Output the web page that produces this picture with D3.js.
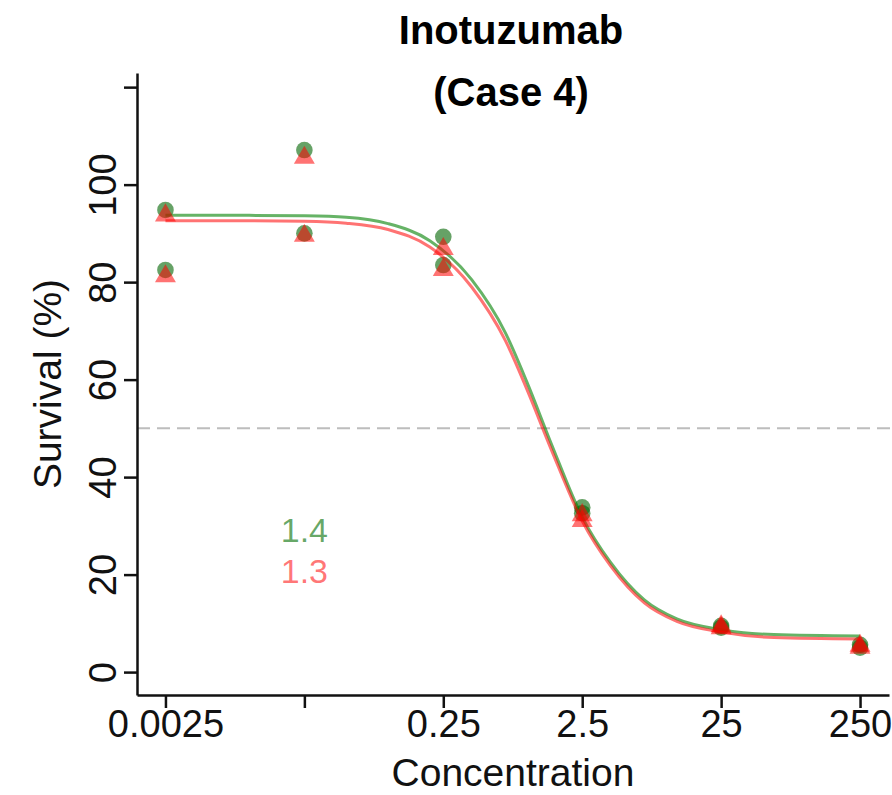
<!DOCTYPE html>
<html>
<head>
<meta charset="utf-8">
<script src="https://cdn.jsdelivr.net/npm/d3@7"></script>
<style>
  body { margin: 0; background: #fff; }
  svg { display: block; font-family: "Liberation Sans", Arial, sans-serif; }
</style>
</head>
<body>
<div id="result"></div>
<script>
const width = 892;
const height = 795;
const plot = { left: 137, right: 889, top: 73, bottom: 695 };

// concentrations of the measured points (two replicates each)
const doses = [0.0025, 0.0025, 0.025, 0.025, 0.25, 0.25, 2.5, 2.5, 25, 25, 250, 250];
const greenPoints = [94.8, 82.5, 107.1, 90.0, 89.3, 83.5, 33.8, 32.6, 9.5, 9.1, 5.6, 5.0];
const redPoints = [93.7, 81.2, 105.5, 89.5, 86.8, 82.5, 32.2, 31.0, 9.4, 9.0, 5.4, 5.0];

// fitted curves
const curveDoses = [0.0025, 0.01, 0.025, 0.05, 0.1, 0.2, 0.4, 0.7, 1, 1.5, 2.5, 4, 7, 12, 25, 60, 250];
const greenCurve = [93.7, 93.7, 93.6, 93.3, 92.0, 88.5, 80.5, 69.6, 59.5, 46.8, 31.8, 22.5, 14.8, 10.9, 8.7, 7.7, 7.4];
const redCurve = [92.6, 92.6, 92.5, 92.1, 90.8, 87.2, 79.0, 68.0, 58.0, 45.6, 31.0, 21.8, 14.2, 10.4, 8.2, 7.1, 6.8];

// ticks
const xTicks = [0.0025, 0.025, 0.25, 2.5, 25, 250];
const xTickLabels = ['0.0025', '', '0.25', '2.5', '25', '250'];
const yTicks = [0, 20, 40, 60, 80, 100, 120];
const yTickLabels = ['0', '20', '40', '60', '80', '100', ''];

const ec50Labels = ['1.4', '1.3'];
const ec50Y = [29.2, 20.8];

const svg = d3.select('#result')
    .append('svg')
    .attr('width', width)
    .attr('height', height);

const xScale = d3.scaleLog()
    .domain([0.00156, 404])
    .range([plot.left, plot.right]);

const yScale = d3.scaleLinear()
    .domain([-4.7, 122.9])
    .range([plot.bottom, plot.top]);

// dashed line at 50%
svg.append('line')
    .attr('x1', plot.left)
    .attr('x2', width)
    .attr('y1', yScale(50))
    .attr('y2', yScale(50))
    .attr('stroke', '#bdbdbd')
    .attr('stroke-width', 2)
    .attr('stroke-dasharray', '13,7');

// y axis
const yAxisG = svg.append('g')
    .attr('transform', `translate(${plot.left},0)`)
    .call(d3.axisLeft(yScale)
        .tickValues(yTicks)
        .tickFormat((d, i) => yTickLabels[i])
        .tickSize(13)
        .tickSizeOuter(0));

yAxisG.selectAll('text')
    .attr('x', 0)
    .attr('y', 0)
    .attr('dy', 0)
    .attr('text-anchor', 'middle')
    .attr('transform', 'translate(-21,0) rotate(-90)')
    .attr('fill', '#111')
    .style('font-size', '38px')
    .style('font-family', '"Liberation Sans", Arial, sans-serif');

// x axis
const xAxisG = svg.append('g')
    .attr('transform', `translate(0,${plot.bottom})`)
    .call(d3.axisBottom(xScale)
        .tickValues(xTicks)
        .tickFormat((d, i) => xTickLabels[i])
        .tickSize(13)
        .tickSizeOuter(0));

xAxisG.selectAll('text')
    .attr('y', 0)
    .attr('dy', 0)
    .attr('transform', 'translate(0,42)')
    .attr('fill', '#111')
    .style('font-size', '38px')
    .style('font-family', '"Liberation Sans", Arial, sans-serif');

svg.selectAll('.domain, .tick line')
    .attr('stroke', '#111')
    .attr('stroke-width', 2.5);

// axis titles
svg.append('text')
    .attr('x', (plot.left + plot.right) / 2)
    .attr('y', 786)
    .attr('text-anchor', 'middle')
    .attr('fill', '#111')
    .style('font-size', '39px')
    .text('Concentration');

svg.append('text')
    .attr('transform', `translate(61,${(plot.top + plot.bottom) / 2}) rotate(-90)`)
    .attr('text-anchor', 'middle')
    .attr('fill', '#111')
    .style('font-size', '39px')
    .text('Survival (%)');

// title
svg.append('text')
    .attr('x', 511)
    .attr('y', 44)
    .attr('text-anchor', 'middle')
    .attr('fill', '#000')
    .style('font-size', '40px')
    .style('font-weight', 'bold')
    .text('Inotuzumab');

svg.append('text')
    .attr('x', 511)
    .attr('y', 106)
    .attr('text-anchor', 'middle')
    .attr('fill', '#000')
    .style('font-size', '40px')
    .style('font-weight', 'bold')
    .text('(Case 4)');

const curveLine = d3.line()
    .x(d => xScale(d[0]))
    .y(d => yScale(d[1]))
    .curve(d3.curveMonotoneX);

// green series
svg.append('g')
    .selectAll('circle')
    .data(d3.zip(doses, greenPoints))
    .enter()
    .append('circle')
        .attr('cx', d => xScale(d[0]))
        .attr('cy', d => yScale(d[1]))
        .attr('r', 8.3)
        .attr('fill', 'rgba(0,100,0,0.6)');

svg.append('path')
    .datum(d3.zip(curveDoses, greenCurve))
    .attr('fill', 'none')
    .attr('stroke', 'rgba(0,128,0,0.6)')
    .attr('stroke-width', 3)
    .attr('d', curveLine);

// red series
const triangle = d3.symbol().type(d3.symbolTriangle).size(190);

svg.append('g')
    .selectAll('path')
    .data(d3.zip(doses, redPoints))
    .enter()
    .append('path')
        .attr('d', triangle)
        .attr('transform', d => `translate(${xScale(d[0])},${yScale(d[1])})`)
        .attr('fill', 'rgba(255,0,0,0.55)');

svg.append('path')
    .datum(d3.zip(curveDoses, redCurve))
    .attr('fill', 'none')
    .attr('stroke', 'rgba(255,0,0,0.55)')
    .attr('stroke-width', 3)
    .attr('d', curveLine);

// EC50 values
const ec50Colors = ['rgba(0,110,0,0.6)', 'rgba(255,0,0,0.55)'];
svg.selectAll('.ec50')
    .data(ec50Labels)
    .enter()
    .append('text')
        .attr('class', 'ec50')
        .attr('x', xScale(0.025))
        .attr('y', (d, i) => yScale(ec50Y[i]))
        .attr('dy', '0.36em')
        .attr('text-anchor', 'middle')
        .attr('fill', (d, i) => ec50Colors[i])
        .style('font-size', '34px')
        .text(d => d);
</script>
</body>
</html>
